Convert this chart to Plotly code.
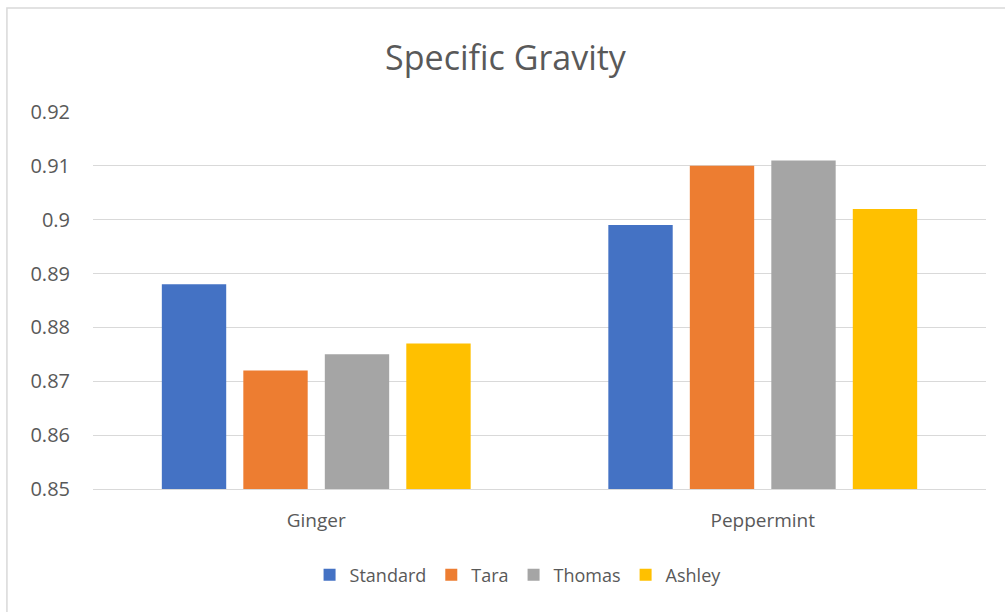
import plotly.graph_objects as go

categories = ["Ginger", "Peppermint"]
series_names = ["Standard", "Tara", "Thomas", "Ashley"]
standard = [0.888, 0.899]
tara = [0.872, 0.910]
thomas = [0.875, 0.911]
ashley = [0.877, 0.902]
tick_vals = [0.85, 0.86, 0.87, 0.88, 0.89, 0.90, 0.91, 0.92]
tick_text = ["0.85", "0.86", "0.87", "0.88", "0.89", "0.9", "0.91", "0.92"]

colors = ["#4472C4", "#ED7D31", "#A5A5A5", "#FFC000"]
values = [standard, tara, thomas, ashley]

FONT = "Open Sans, Noto Sans, sans-serif"

fig = go.Figure()
for name, vals, col in zip(series_names, values, colors):
    fig.add_trace(go.Bar(x=categories, y=vals, name=name, marker_color=col,
                         marker_line_width=0))

fig.update_layout(
    width=1005, height=612,
    paper_bgcolor="white", plot_bgcolor="white",
    margin=dict(l=93, r=19, t=112, b=123),
    barmode="group", bargap=0.27, bargroupgap=0.21,
    title=dict(text="Specific Gravity", x=0.503, xanchor="center", y=0.905, yanchor="middle",
               font=dict(family=FONT, size=34, color="#595959")),
    font=dict(family=FONT, color="#595959"),
    xaxis=dict(showgrid=False, showline=True, linecolor="#D9D9D9", linewidth=1,
               ticks="", ticklabelstandoff=14, tickfont=dict(size=19, color="#595959")),
    yaxis=dict(range=[0.85, 0.92], tickvals=tick_vals, ticktext=tick_text,
               showgrid=True, gridcolor="#D9D9D9", gridwidth=1, zeroline=False,
               showline=False, ticks="", ticklabelstandoff=22,
               tickfont=dict(size=20, color="#595959")),
    legend=dict(orientation="h", x=0.476, xanchor="center", y=-0.228, yanchor="middle",
                font=dict(size=18, color="#595959"), itemwidth=30,
                traceorder="normal"),
    shapes=[dict(type="rect", xref="paper", yref="paper",
                 x0=-0.0964, x1=1.06, y0=-0.45, y1=1.276,
                 line=dict(color="#D9D9D9", width=1.5))],
)

fig.write_html("out.html", config={"displayModeBar": False},
               post_script="document.body.style.margin='0';")
